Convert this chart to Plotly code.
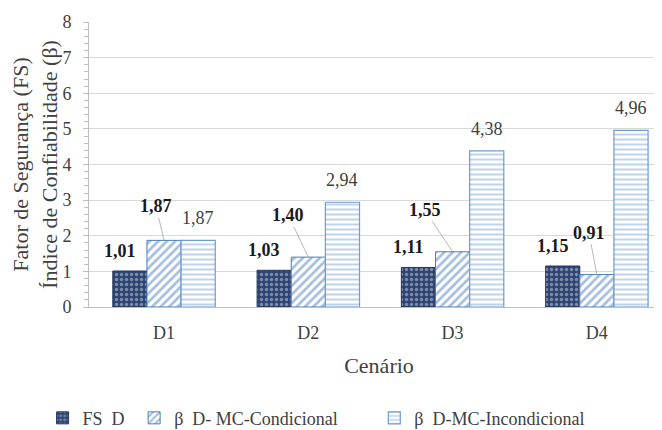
import plotly.graph_objects as go

categories = ["D1", "D2", "D3", "D4"]
fs_d = [1.01, 1.03, 1.11, 1.15]
beta_cond = [1.87, 1.40, 1.55, 0.91]
beta_incond = [1.87, 2.94, 4.38, 4.96]
series_names = ["FS\u00a0\u00a0D\u00a0", "β\u00a0\u00a0D-\u00a0MC-Condicional" + "\u00a0" * 7, "β\u00a0\u00a0D-MC-Incondicional"]

FONT = "Liberation Serif"
bargap = 0.29
bw = (1 - bargap) / 3

def fmt(v):
    return f"{v:.2f}".replace(".", ",")

fig = go.Figure()
fig.add_trace(go.Bar(
    x=categories, y=fs_d, name=series_names[0],
    marker=dict(color="#2F4470", line=dict(color="#22355E", width=1),
                pattern=dict(shape=".", fillmode="overlay", fgcolor="#C9D3E6", size=5, solidity=0.35)),
))
fig.add_trace(go.Bar(
    x=categories, y=beta_cond, name=series_names[1],
    marker=dict(color="white", line=dict(color="#4A7EBB", width=1),
                pattern=dict(shape="/", fillmode="overlay", fgcolor="#4A7EBB", size=6, solidity=0.45)),
))
fig.add_trace(go.Bar(
    x=categories, y=beta_incond, name=series_names[2],
    marker=dict(color="white", line=dict(color="#6C9BD6", width=1.2),
                pattern=dict(shape="-", fillmode="overlay", fgcolor="#7FA8DC", size=5, solidity=0.4)),
))

annotations = []
for i, v in enumerate(fs_d):
    annotations.append(dict(x=i - bw, y=v, text="<b>" + fmt(v) + "</b>", showarrow=False,
                            xshift=-10, yshift=20, font=dict(color="#1a1a1a")))
cond_shift = [(-8, -34), (-20, -42), (-28, -42), (-8, -42)]
for i, v in enumerate(beta_cond):
    ax, ay = cond_shift[i]
    annotations.append(dict(x=i, y=v, text="<b>" + fmt(v) + "</b>", showarrow=True, arrowhead=0,
                            arrowwidth=0.8, arrowcolor="#A6A6A6", ax=ax, ay=ay, standoff=0,
                            font=dict(color="#1a1a1a")))
for i, v in enumerate(beta_incond):
    annotations.append(dict(x=i + bw, y=v, text=fmt(v), showarrow=False, yshift=22))

fig.update_layout(
    template="none",
    width=662, height=430,
    margin=dict(l=81, r=1, t=14, b=128),
    paper_bgcolor="white", plot_bgcolor="white",
    barmode="group", bargap=bargap, bargroupgap=0,
    font=dict(family=FONT, color="#404040", size=18),
    annotations=annotations,
    legend=dict(orientation="h", x=-0.08, xanchor="left", y=-0.39, yanchor="middle",
                itemwidth=30, tracegroupgap=0),
    xaxis=dict(title=dict(text="Cenário", standoff=16),
               range=[-0.52, 3.5],
               showline=True, linecolor="#BFBFBF", linewidth=1, ticks="", showgrid=False,
               ticklabelstandoff=9),
    yaxis=dict(title=dict(text="Fator de Segurança (FS)<br>Índice de Confiabilidade (β)", standoff=14),
               range=[0, 8], dtick=1, showgrid=True, gridcolor="#D9D9D9", gridwidth=1,
               showline=True, linecolor="#BFBFBF", linewidth=1, zeroline=False,
               ticks="outside", ticklen=5, tickcolor="#BFBFBF",
               ticklabelstandoff=8,
               minor=dict(dtick=0.2, ticks="outside", ticklen=4, tickcolor="#BFBFBF", showgrid=False)),
)

fig.write_html("out.html")
